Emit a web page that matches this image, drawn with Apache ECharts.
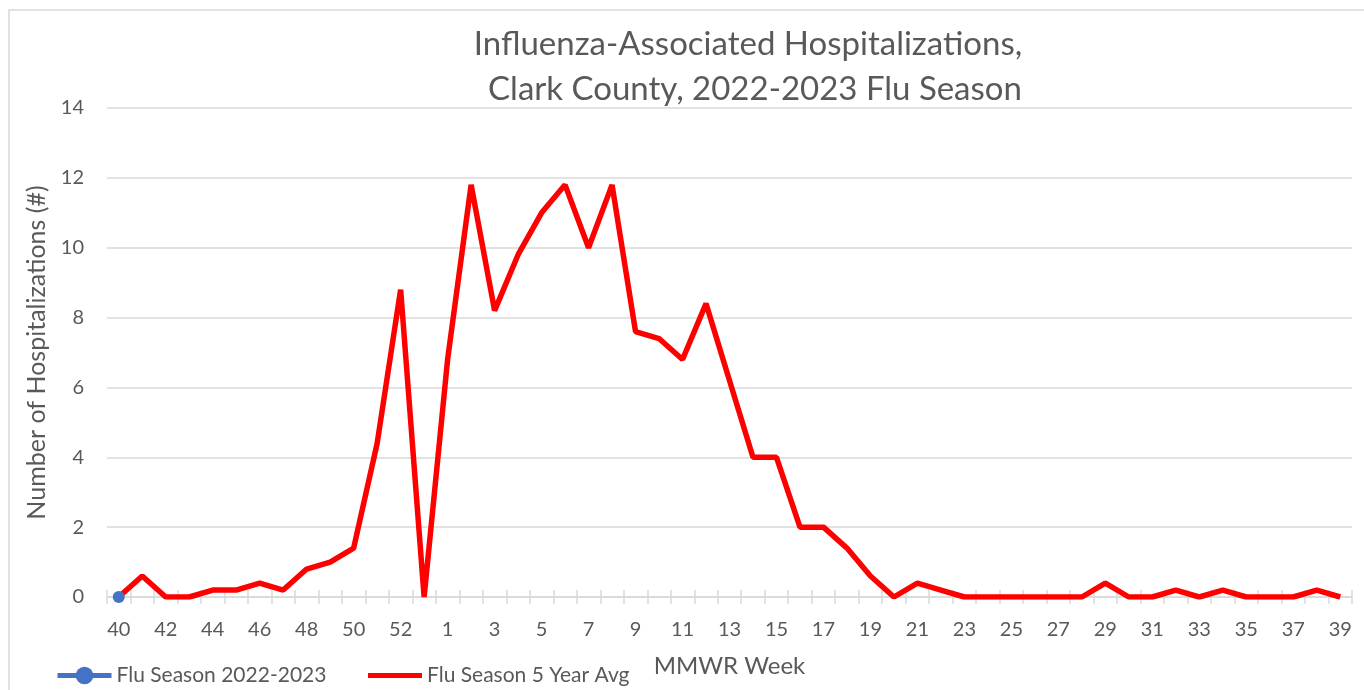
<!DOCTYPE html>
<html>
<head>
<meta charset="utf-8">
<script src="https://cdn.jsdelivr.net/npm/echarts@6/dist/echarts.min.js"></script>
<style>
html,body{margin:0;padding:0;background:#fff;}
#chart{width:1364px;height:690px;}
</style>
</head>
<body>
<div id="chart"></div>
<script>
const weeks = ['40','41','42','43','44','45','46','47','48','49','50','51','52','53',
  '1','2','3','4','5','6','7','8','9','10','11','12','13','14','15','16','17','18','19','20',
  '21','22','23','24','25','26','27','28','29','30','31','32','33','34','35','36','37','38','39'];
const season2022 = [0];
const fiveYearAvg = [0,0.6,0,0,0.2,0.2,0.4,0.2,0.8,1.0,1.4,4.4,8.8,0,
  6.8,11.8,8.2,9.8,11.0,11.8,10.0,11.8,7.6,7.4,6.8,8.4,6.2,4.0,4.0,2.0,2.0,1.4,0.6,0,
  0.4,0.2,0,0,0,0,0,0,0.4,0,0,0.2,0,0.2,0,0,0,0.2,0];
const titleLines = ['Influenza-Associated Hospitalizations,', 'Clark County, 2022-2023 Flu Season'];
const seriesNames = ['Flu Season 2022-2023', 'Flu Season 5 Year Avg'];

const FONT = 'Lato';
const GRAY = '#595959';
const chart = echarts.init(document.getElementById('chart'));
chart.setOption({
  animation: false,
  backgroundColor: '#fff',
  textStyle: {fontFamily: FONT},
  graphic: [
    {type: 'rect', shape: {x: 9, y: 10, width: 1400, height: 700}, style: {fill: 'none', stroke: '#d9d9d9', lineWidth: 1.5}, silent: true},
    {type: 'text', x: 748, y: 44, style: {text: titleLines[0], fontFamily: FONT, fontSize: 33, fill: GRAY, align: 'center', verticalAlign: 'middle'}},
    {type: 'text', x: 755, y: 89, style: {text: titleLines[1], fontFamily: FONT, fontSize: 33, fill: GRAY, align: 'center', verticalAlign: 'middle'}}
  ],
  legend: [{
    left: 50, top: 660, padding: 5,
    itemWidth: 54, itemHeight: 22,
    lineStyle: {width: 5},
    textStyle: {fontFamily: FONT, fontSize: 21, color: GRAY},
    data: [seriesNames[0]]
  }, {
    left: 363, top: 660, padding: 5,
    itemWidth: 54, itemHeight: 5, icon: 'rect',
    textStyle: {fontFamily: FONT, fontSize: 21, color: GRAY},
    data: [seriesNames[1]]
  }],
  grid: {left: 107, right: 12, top: 108, bottom: 93, containLabel: false},
  xAxis: [{
    type: 'category', data: weeks, boundaryGap: true,
    name: 'MMWR Week', nameLocation: 'middle', nameGap: 57,
    nameTextStyle: {fontFamily: FONT, fontSize: 24, color: GRAY},
    axisLine: {lineStyle: {color: '#d9d9d9', width: 1.5}},
    axisTick: {show: true, interval: 0, length: 7, lineStyle: {color: '#d9d9d9', width: 1.5}},
    axisLabel: {interval: 1, margin: 23, fontSize: 20, color: GRAY, fontFamily: FONT},
    splitLine: {show: false}
  }, {
    type: 'category', data: weeks, boundaryGap: true, position: 'bottom',
    axisLine: {show: false},
    axisTick: {show: true, inside: true, interval: 0, length: 7, lineStyle: {color: '#d9d9d9', width: 1.5}},
    axisLabel: {show: false},
    splitLine: {show: false}
  }],
  yAxis: {
    type: 'value', min: 0, max: 14, interval: 2,
    name: 'Number of Hospitalizations (#)', nameLocation: 'middle', nameGap: 56,
    nameTextStyle: {fontFamily: FONT, fontSize: 25, color: GRAY},
    axisLine: {show: false}, axisTick: {show: false},
    axisLabel: {margin: 23, fontSize: 20, color: GRAY, fontFamily: FONT},
    splitLine: {lineStyle: {color: '#d9d9d9', width: 1.5}}
  },
  series: [{
    name: seriesNames[0], type: 'line', data: season2022,
    symbol: 'circle', symbolSize: 12, showSymbol: true,
    itemStyle: {color: '#4472c4'},
    lineStyle: {color: '#4472c4', width: 5}
  }, {
    name: seriesNames[1], type: 'line', data: fiveYearAvg,
    symbol: 'none', showSymbol: false,
    itemStyle: {color: '#ff0000'},
    lineStyle: {color: '#ff0000', width: 5.5}
  }]
});
</script>
</body>
</html>
